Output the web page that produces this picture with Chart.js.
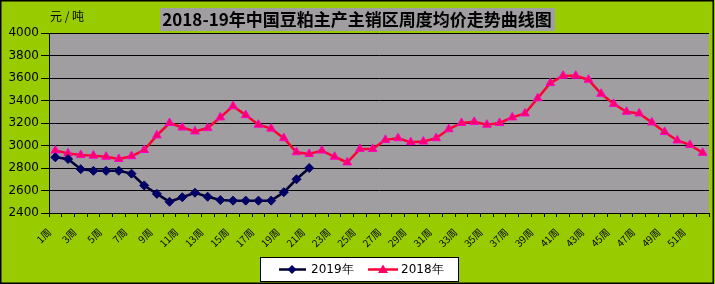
<!DOCTYPE html>
<html>
<head>
<meta charset="utf-8">
<script src="https://cdn.jsdelivr.net/npm/chart.js@4.4.0/dist/chart.umd.min.js"></script>
<style>
  html, body { margin: 0; padding: 0; background: #99cc00; }
</style>
</head>
<body>
<canvas id="chart" width="715" height="284"></canvas>
<script>
const weeks = ["1周","2周","3周","4周","5周","6周","7周","8周","9周","10周",
  "11周","12周","13周","14周","15周","16周","17周","18周","19周","20周",
  "21周","22周","23周","24周","25周","26周","27周","28周","29周","30周",
  "31周","32周","33周","34周","35周","36周","37周","38周","39周","40周",
  "41周","42周","43周","44周","45周","46周","47周","48周","49周","50周",
  "51周","52周"];

const price2019 = [2895, 2880, 2790, 2775, 2775, 2775, 2750, 2645, 2570, 2500,
  2540, 2580, 2545, 2515, 2510, 2510, 2510, 2510, 2585, 2700, 2800];

const price2018 = [2955, 2930, 2915, 2910, 2900, 2880, 2905, 2960, 3090, 3200,
  3160, 3125, 3155, 3250, 3350, 3270, 3185, 3150, 3065, 2940,
  2925, 2955, 2900, 2850, 2970, 2970, 3050, 3065, 3030, 3035,
  3065, 3145, 3200, 3210, 3185, 3200, 3250, 3285, 3420, 3555,
  3620, 3620, 3585, 3460, 3370, 3300, 3285, 3205, 3120, 3045,
  3005, 2935];

const yTicks = [2400, 2600, 2800, 3000, 3200, 3400, 3600, 3800, 4000];

const chartTitle = "2018-19年中国豆粕主产主销区周度均价走势曲线图";
const unitText = "元 / 吨";

// background, plot area, title box
const backdrop = {
  id: "backdrop",
  beforeDraw(chart) {
    const c = chart.ctx;
    const a = chart.chartArea;
    c.save();
    c.fillStyle = "#99cc00";
    c.fillRect(0, 0, chart.width, chart.height);
    c.fillStyle = "#a09ea0";
    c.fillRect(a.left, a.top, a.right - a.left, a.bottom - a.top);

    c.fillStyle = "#a09ea0";
    c.fillRect(160, 8, 395, 23);
    c.fillStyle = "#000";
    c.font = "bold 17px 'Noto Sans CJK SC'";
    c.textBaseline = "middle";
    c.textAlign = "center";
    c.fillText(chartTitle, 357, 20);

    c.font = "12px 'Noto Sans CJK SC'";
    c.textAlign = "left";
    c.fillText(unitText, 50, 16);
    c.restore();
  },
  afterDraw(chart) {
    const c = chart.ctx;
    c.save();
    // legend box
    c.fillStyle = "#fff";
    c.fillRect(260, 257, 198, 24);
    c.strokeStyle = "#000";
    c.lineWidth = 1;
    c.strokeRect(260.5, 257.5, 198, 24);

    c.strokeStyle = "#000033";
    c.lineWidth = 2.5;
    c.beginPath(); c.moveTo(279, 269.5); c.lineTo(306, 269.5); c.stroke();
    c.fillStyle = "#000066";
    c.beginPath();
    c.moveTo(292, 265); c.lineTo(296.5, 269.5); c.lineTo(292, 274); c.lineTo(287.5, 269.5);
    c.closePath(); c.fill();

    c.strokeStyle = "#ff0033";
    c.beginPath(); c.moveTo(368, 269.5); c.lineTo(398, 269.5); c.stroke();
    c.fillStyle = "#ff0066";
    c.beginPath();
    c.moveTo(383, 264.5); c.lineTo(388, 273); c.lineTo(378, 273);
    c.closePath(); c.fill();

    c.fillStyle = "#000";
    c.font = "12px 'DejaVu Sans'";
    c.textBaseline = "middle";
    c.textAlign = "left";
    c.fillText("2019年", 311, 270);
    c.fillText("2018年", 401, 270);

    // outer frame
    c.strokeStyle = "#000";
    c.lineWidth = 1.5;
    c.strokeRect(0.75, 0.75, chart.width - 2.5, chart.height - 1.5);
    c.restore();
  }
};

const ctx = document.getElementById("chart").getContext("2d");

new Chart(ctx, {
  type: "line",
  data: {
    labels: weeks,
    datasets: [{
      label: "2019年",
      data: price2019,
      borderColor: "#000033",
      borderWidth: 2.5,
      pointStyle: "rectRot",
      pointRadius: 4.5,
      pointBackgroundColor: "#000066",
      pointBorderColor: "#000066",
      pointBorderWidth: 1,
      tension: 0
    }, {
      label: "2018年",
      data: price2018,
      borderColor: "#ff0033",
      borderWidth: 2.5,
      pointStyle: "triangle",
      pointRadius: 5,
      pointBackgroundColor: "#ff0066",
      pointBorderColor: "#ff00cc",
      pointBorderWidth: 1,
      tension: 0
    }]
  },
  options: {
    responsive: false,
    animation: false,
    devicePixelRatio: 1,
    layout: { padding: { left: 0, top: 33, right: 4, bottom: 0 } },
    plugins: {
      legend: { display: false },
      title: { display: false },
      tooltip: { enabled: false }
    },
    scales: {
      x: {
        offset: true,
        afterFit(s) { s.height = 71; s.paddingRight = 0; },
        grid: { offset: true, drawOnChartArea: false, tickLength: 4, color: "#000" },
        border: { color: "#000", width: 1 },
        ticks: {
          autoSkip: false,
          minRotation: 45,
          maxRotation: 45,
          labelOffset: -6,
          padding: 9,
          color: "#000",
          font: { family: "'Noto Sans CJK SC'", size: 10 },
          callback(v, i) { return i % 2 === 0 ? weeks[i] : ""; }
        }
      },
      y: {
        min: yTicks[0],
        max: yTicks[yTicks.length - 1],
        afterFit(s) { s.width = 49; },
        afterBuildTicks(s) { s.ticks = yTicks.map(v => ({ value: v })); },
        grid: { color: "#000", tickLength: 8, lineWidth: 1 },
        border: { color: "#000", width: 1 },
        ticks: {
          color: "#000",
          padding: 2,
          font: { family: "'DejaVu Sans'", size: 12 },
          callback(v) { return String(v); }
        }
      }
    }
  },
  plugins: [backdrop]
});
</script>
</body>
</html>
